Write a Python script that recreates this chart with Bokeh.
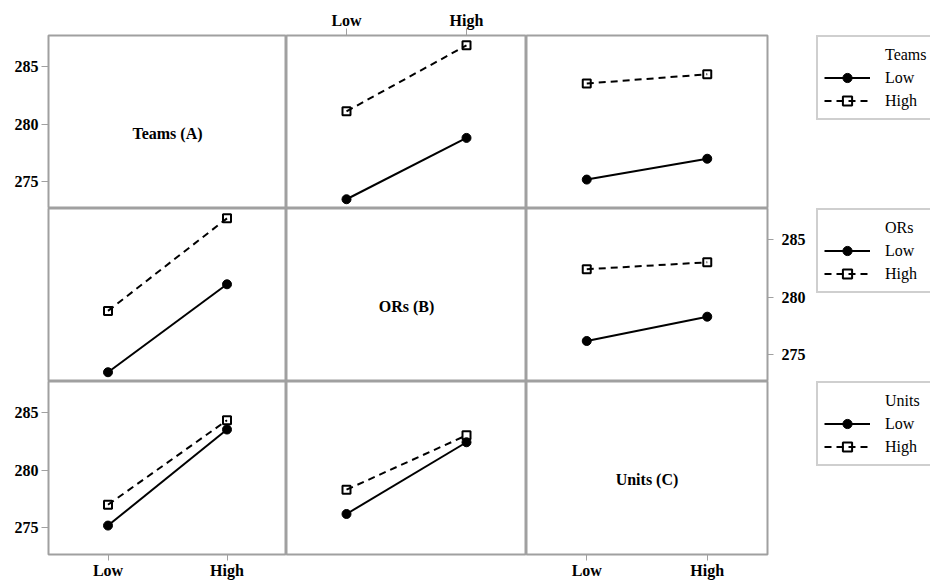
from bokeh.plotting import figure
from bokeh.models import (FactorRange, Range1d, CategoricalAxis, LinearAxis, FixedTicker,
                          Legend, LegendItem, Label, ColumnDataSource)
from bokeh.layouts import row, column
from bokeh.embed import file_html
from bokeh.resources import INLINE

# ---------------- data ----------------
levels = ["Low", "High"]
factor_names = ["Teams", "ORs", "Units"]
factor_labels = ["Teams (A)", "ORs (B)", "Units (C)"]
y_ticks = [275, 280, 285]

# cell means: outer index = level of first factor, inner = level of second factor
teams_by_ors = [[273.5, 278.8], [281.1, 286.8]]
teams_by_units = [[275.2, 277.0], [283.5, 284.3]]
ors_by_units = [[276.2, 278.3], [282.4, 283.0]]

means = {(0, 1): teams_by_ors, (0, 2): teams_by_units, (1, 2): ors_by_units}


def cell(trace, xf, t_level, x_level):
    if trace < xf:
        return means[(trace, xf)][t_level][x_level]
    return means[(xf, trace)][x_level][t_level]


# ---------------- style ----------------
FWS = [238, 240, 241]
FH = 173
LEFT, TOP, BOTTOM, RIGHT = 48, 35, 26, 48
LEG_W = 115
Y_START, Y_END = 272.7, 287.65
GRAY = "#a0a0a0"
TICK_FONT = "Liberation Serif"
TICK_SIZE = "16px"
LEG_PAD, LEG_ROW = 6, 23
DASH = "7 5"


def style_axis(ax, tick_out, standoff):
    ax.axis_line_color = None
    ax.major_tick_line_color = GRAY
    ax.major_tick_line_width = 1
    ax.major_tick_out = tick_out
    ax.major_tick_in = 0
    ax.minor_tick_line_color = None
    ax.major_label_text_font = TICK_FONT
    ax.major_label_text_font_size = TICK_SIZE
    ax.major_label_text_font_style = "bold"
    ax.major_label_text_color = "black"
    ax.major_label_standoff = standoff


def base_figure(r, width, left, right):
    p = figure(x_range=FactorRange(factors=levels), y_range=Range1d(Y_START, Y_END),
               frame_width=width, frame_height=FH, output_backend="svg",
               toolbar_location=None,
               x_axis_location=None, y_axis_location=None,
               min_border_left=left, min_border_right=right,
               min_border_top=TOP if r == 0 else 0,
               min_border_bottom=BOTTOM if r == 2 else 0)
    for g in p.grid:
        g.visible = False
    p.background_fill_color = "white"
    p.border_fill_color = "white"
    return p


def draw_trace(p, src, li, visible=True):
    if li == 0:
        ln = p.line("x", "y", source=src, line_color="black", line_width=2)
        mk = p.scatter("x", "y", source=src, marker="circle", size=9,
                       fill_color="black", line_color="black")
    else:
        ln = p.line("x", "y", source=src, line_color="black", line_width=2,
                    line_dash=DASH)
        mk = p.scatter("x", "y", source=src, marker="square", size=8,
                       fill_alpha=0, line_color="black", line_width=2)
    ln.visible = visible
    mk.visible = visible
    return [ln, mk]


def make_panel(r, c):
    p = base_figure(r, FWS[c], LEFT if c == 0 else 0, RIGHT if c == 2 else 0)
    p.outline_line_color = GRAY
    p.outline_line_width = 2

    # axes
    if r == 0 and c == 1:
        ax = CategoricalAxis()
        style_axis(ax, 7, 0)
        p.add_layout(ax, "above")
    if r == 2 and c in (0, 2):
        ax = CategoricalAxis()
        style_axis(ax, 6, 1)
        p.add_layout(ax, "below")
    if c == 0 and r in (0, 2):
        ax = LinearAxis(ticker=FixedTicker(ticks=y_ticks))
        style_axis(ax, 7, 3)
        p.add_layout(ax, "left")
    if c == 2 and r == 1:
        ax = LinearAxis(ticker=FixedTicker(ticks=y_ticks))
        style_axis(ax, 6, 8)
        p.add_layout(ax, "right")

    if r == c:
        p.add_layout(Label(x=1.0, y=(Y_START + Y_END) / 2 - 1.0, text=factor_labels[r],
                           text_align="center", text_baseline="middle",
                           text_font=TICK_FONT, text_font_size="16px",
                           text_font_style="bold", text_color="black"))
    else:
        for li in range(2):
            ys = [cell(r, c, li, xi) for xi in range(2)]
            draw_trace(p, ColumnDataSource(data=dict(x=levels, y=ys)), li)
    return p


def make_legend(r):
    p = base_figure(r, LEG_W, 0, 0)
    p.outline_line_color = None
    # legend keys reuse this row's data with hidden renderers
    xf = 1 if r == 0 else 0
    ghost = p.scatter("x", "y", source=ColumnDataSource(data=dict(x=[], y=[])),
                      marker="circle", size=1, fill_alpha=0, line_alpha=0)
    keys = []
    for li in range(2):
        ys = [cell(r, xf, li, xi) for xi in range(2)]
        keys.append(draw_trace(p, ColumnDataSource(data=dict(x=levels, y=ys)), li,
                               visible=False))
    leg_h = 2 * LEG_PAD + 3 * LEG_ROW
    legend = Legend(items=[LegendItem(label=factor_names[r], renderers=[ghost]),
                           LegendItem(label=levels[0], renderers=keys[0]),
                           LegendItem(label=levels[1], renderers=keys[1])],
                    location=(1, FH - leg_h - 4))
    legend.click_policy = "none"
    legend.border_line_color = GRAY
    legend.border_line_width = 2
    legend.background_fill_color = "white"
    legend.background_fill_alpha = 1
    legend.padding = LEG_PAD
    legend.spacing = 0
    legend.margin = 0
    legend.glyph_width = 46
    legend.glyph_height = LEG_ROW
    legend.label_height = LEG_ROW
    legend.label_width = 80
    legend.label_standoff = 15
    legend.label_text_font = "Liberation Serif"
    legend.label_text_font_size = "16px"
    legend.label_text_color = "black"
    p.add_layout(legend)
    return p


rows = []
for r in range(3):
    rows.append(row([make_panel(r, c) for c in range(3)] + [make_legend(r)], spacing=0))
layout = column(rows, spacing=0)

open("out.html", "w").write(file_html(layout, INLINE))
